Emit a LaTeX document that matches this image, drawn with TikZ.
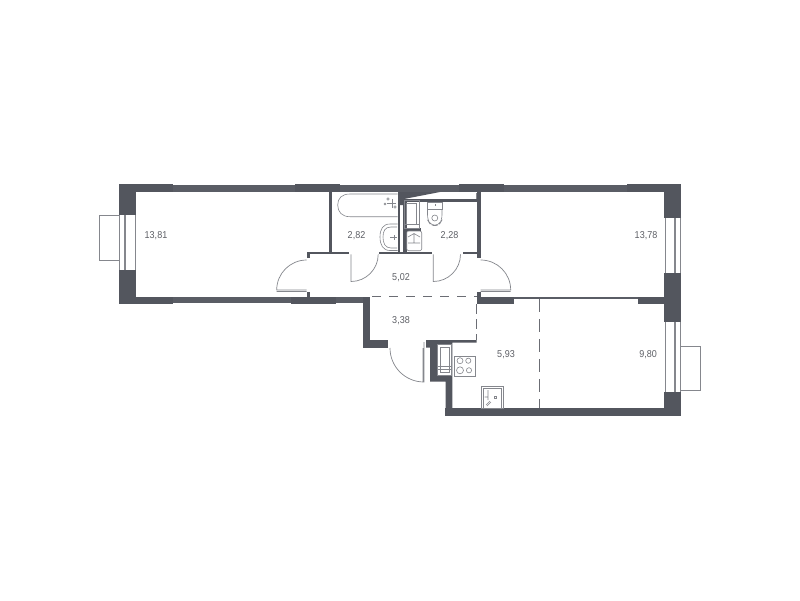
\documentclass[tikz,border=0pt]{standalone}
\usepackage{fontspec}
\setmainfont[FakeStretch=0.9]{Liberation Sans}
\definecolor{walld}{HTML}{53565E}
\definecolor{walll}{HTML}{5A5D65}
\definecolor{ln}{HTML}{85878D}
\definecolor{txt}{HTML}{5E6066}
\tikzset{
 wall/.style={fill=walld},
 thinwall/.style={fill=walll},
 fixt/.style={draw=ln,line width=0.6pt,fill=white},
 lin/.style={draw=ln,line width=0.6pt},
 doorline/.style={draw=ln,line width=0.7pt},
 zoneline/.style={draw=walll!90,line width=0.7pt},
 lab/.style={font=\fontsize{10}{11}\selectfont,text=txt,inner sep=0pt}
}
\begin{document}
\begin{tikzpicture}[x=1pt,y=-1pt]
\useasboundingbox (0,0) rectangle (800,600);
\fill[white] (0,0) rectangle (800,600);
% outer walls
\fill[wall] (118.5,184) rectangle (172.5,192.3);
\fill[thinwall] (172.5,185) rectangle (295,192.3);
\fill[wall] (295,184) rectangle (340,192.3);
\fill[thinwall] (340,185) rectangle (459,192.3);
\fill[wall] (459,184) rectangle (504.3,192.3);
\fill[thinwall] (504.3,185) rectangle (626.7,192.3);
\fill[wall] (626.7,184) rectangle (681,192.3);
\fill[wall] (118.5,184) rectangle (135.7,304);
\fill[wall] (664.3,184) rectangle (681,415.7);
\fill[wall] (445,408.3) rectangle (681,415.7);
% lower-left wall
\fill[wall] (118.5,296.5) rectangle (172.5,304);
\fill[thinwall] (172.5,297) rectangle (291,303.3);
\fill[wall] (291,296.5) rectangle (336,304);
\fill[thinwall] (336,297) rectangle (370,303.3);
\fill[wall] (362.7,297) rectangle (370,347.7);
\fill[wall] (362.7,340) rectangle (388.3,347.7);
% windows
\fill[white] (118.5,215) rectangle (135.7,270);
\draw[lin] (119.3,215) -- (119.3,270) (124.3,215) -- (124.3,270) (125.7,215) -- (125.7,270) (135,215) -- (135,270);
\draw[lin] (119,215.7) -- (99.3,215.7) -- (99.3,260) -- (119,260);
\fill[white] (664.3,218.3) rectangle (681,273.3);
\draw[lin] (665,218.3) -- (665,273.3) (674,218.3) -- (674,273.3) (675.7,218.3) -- (675.7,273.3) (680.5,218.3) -- (680.5,273.3);
\fill[white] (664.3,321.7) rectangle (681,391.7);
\draw[lin] (665,321.7) -- (665,391.7) (674,321.7) -- (674,391.7) (675.7,321.7) -- (675.7,391.7) (680.5,321.7) -- (680.5,391.7);
\draw[lin] (681,346) -- (700,346) -- (700,390) -- (681,390);
% inner partitions
\fill[wall] (329,192) rectangle (332,252);
\fill[wall] (397.7,192) rectangle (400,252);
\fill[wall] (403.3,199) rectangle (406.7,252);
\fill[wall] (477,192) rectangle (480.7,258);
\fill[wall] (400,192) -- (440,192) -- (404,199) -- (403.3,205) -- (400,205) -- cycle;
\fill[wall] (403.3,199.3) rectangle (477,201.7);
\fill[wall] (403.3,228) rectangle (421,231);
\draw[lin] (476.5,193) -- (476.5,199.3);
% corridor walls
\fill[wall] (306.7,251.7) rectangle (349.3,254.3);
\fill[wall] (379.3,251.7) rectangle (431.7,254.3);
\fill[wall] (462.7,251.7) rectangle (480.7,254.3);
\fill[wall] (306.7,251.7) rectangle (310,258);
\fill[wall] (306.7,292) rectangle (310,297);
\fill[wall] (477,292) rectangle (480.7,297);
% room divider
\fill[wall] (477,296.7) rectangle (514,304.3);
\fill[thinwall] (514,296.7) rectangle (638.3,299.3);
\fill[wall] (638.3,296.7) rectangle (664.3,304.3);
% kitchen block
\fill[wall] (426,340) -- (476.7,340) -- (476.7,342.7) -- (452.3,342.7) -- (452.3,408.5) -- (445.7,408.5) -- (445.7,381.7) -- (430,381.7) -- (430,347.7) -- (426,347.7) -- cycle;
\path[fixt] (437.7,344.3) rectangle (451.3,375);
\draw[lin] (440,347) rectangle (449.3,372) (437.7,366.7) -- (451.3,366.7) (437.7,369.3) -- (451.3,369.3);
% zone lines
\draw[zoneline,dash pattern=on 9pt off 8pt] (372,296.7) -- (477,296.7);
\draw[zoneline,dash pattern=on 10pt off 5pt] (476.7,304) -- (476.7,340);
\draw[zoneline,dash pattern=on 13pt off 7pt] (539.3,299.3) -- (539.3,408.3);
% doors
\draw[doorline] (306.7,260) .. controls (290.1,260) and (276.7,273.4) .. (276.7,290) -- (306.7,290) (276.7,291.5) -- (306.7,291.5);
\draw[doorline] (351,254.3) -- (351,281.5) .. controls (366,281.5) and (378.2,269.3) .. (378.2,254.3);
\draw[doorline] (433.3,254.3) -- (433.3,281.5) .. controls (448.3,281.5) and (460.5,269.3) .. (460.5,254.3);
\draw[doorline] (480.7,260) .. controls (497.3,260) and (510.7,273.4) .. (510.7,290) -- (480.7,290) (510.7,291.5) -- (480.7,291.5);
\draw[doorline] (390,348) .. controls (390,366.8) and (405.2,382) .. (424,382) -- (424,342) (423,382) -- (423,348);
% bathtub
\draw[lin] (397.7,194) -- (350,194) .. controls (342,194) and (337.7,198) .. (337.7,205) .. controls (337.7,212) and (342,216.7) .. (350,216.7) -- (397.7,216.7);
\draw[lin] (387,203) -- (396,203) (392,199) -- (392,208);
\draw[lin] (388,199) circle (1.2) (395,207) circle (1.2) (385,204) circle (1);
% bath sink
\draw[lin] (397.7,224) -- (390,224) .. controls (383,224) and (380,229) .. (380,237) .. controls (380,245) and (383,250.5) .. (390,250.5) -- (397.7,250.5);
\draw[lin] (397,227) -- (391,227) .. controls (385,227) and (383,231) .. (383,237) .. controls (383,243) and (385,248) .. (391,248) -- (397,248);
\draw[lin] (390,237) -- (397,237) (394,235) -- (394,240);
% WC column
\draw[lin] (404,200) rectangle (419,228);
\draw[lin] (406.5,203) rectangle (416.5,224.5) (404,224.5) -- (419,224.5);
\draw[lin,rounded corners=2pt] (406.7,231) rectangle (421.7,250.7);
\draw[lin] (408,237) -- (414,233.5) -- (420,237) (414,233.5) -- (414,243) (408,243) -- (420,243);
% toilet
\draw[lin] (427.3,202.5) rectangle (442.3,209);
\draw[lin] (434.8,204) -- (434.8,206);
\draw[lin,rounded corners=5pt] (427.5,209) -- (427.5,220) -- (431,225.5) -- (438.7,225.5) -- (442,220) -- (442,209);
\draw[lin] (434.8,218) circle (3);
% stove
\draw[lin] (454,356) rectangle (475.7,376);
\draw[lin] (460,360.7) circle (3) (468.3,360.7) circle (2.6) (460,370.3) circle (3.5) (469,370.3) circle (2.6);
% kitchen sink
\draw[lin] (481,386) rectangle (503.3,408.3);
\draw[lin] (483,388) rectangle (501.5,408.3);
\draw[lin] (494.3,396) rectangle (496.6,398.2);
\draw[lin] (484.5,397) -- (487.5,397) (486,405) -- (490,401) (487,406) -- (491,402) (488,390) -- (488,400);
% labels
\node[lab] (l1) at (156,236) {13,81};
\node[lab] (l2) at (356.5,236) {2,82};
\node[lab] (l3) at (449.5,236) {2,28};
\node[lab] (l4) at (401,278) {5,02};
\node[lab] (l5) at (401,321) {3,38};
\node[lab] (l6) at (506,354.5) {5,93};
\node[lab] (l7) at (648,354.5) {9,80};
\node[lab] (l8) at (646,236) {13,78};
\end{tikzpicture}
\end{document}
